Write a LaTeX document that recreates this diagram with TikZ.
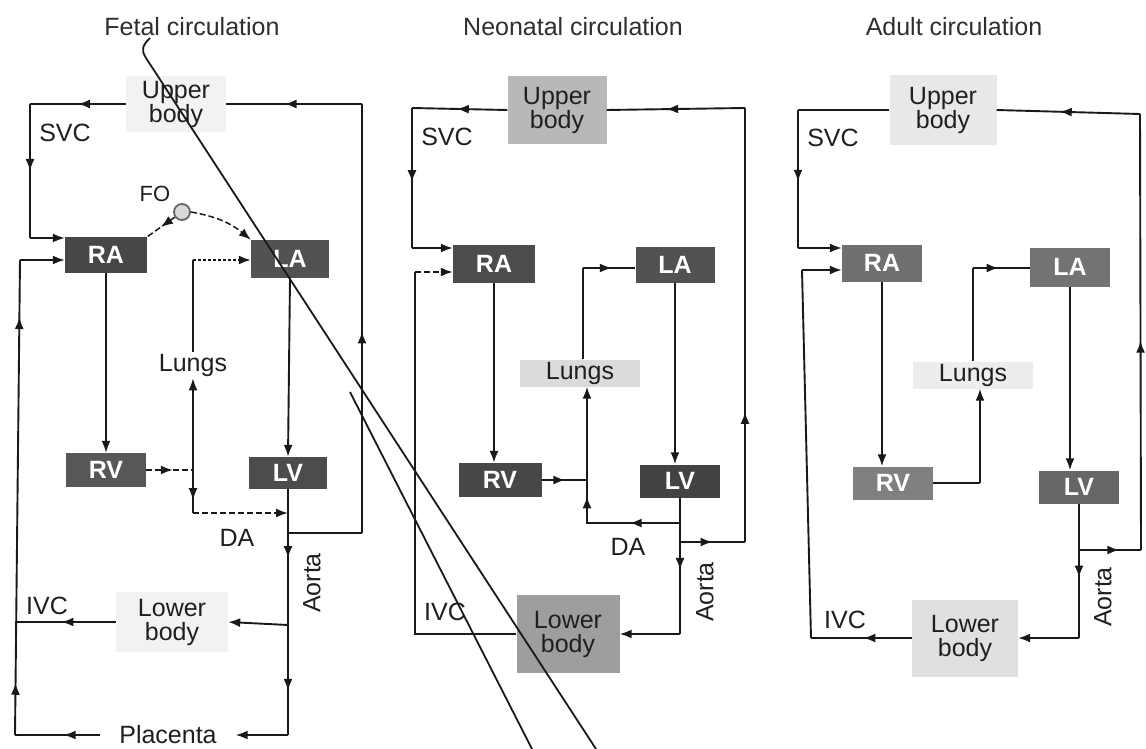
\documentclass[tikz,border=0pt]{standalone}
\usepackage{fontspec}
\setmainfont{Liberation Sans}
\usetikzlibrary{arrows.meta,decorations.markings}
\begin{document}
\begin{tikzpicture}[x=1pt,y=-1pt,
  every node/.style={font=\fontsize{25}{24}\selectfont, text=black!88},
  ln/.style={draw=black!90, line width=1.9pt},
  tip/.style={-{Latex[length=12pt,width=9pt]}},
  dsh/.style={dash pattern=on 6pt off 3pt},
  dots/.style={dash pattern=on 2.5pt off 2.5pt},
  marr/.style={postaction={decorate,decoration={markings,mark=at position #1 with {\arrow{Latex[length=12pt,width=9pt]}}}}},
  heart/.style={rectangle, fill=#1, text=white, font=\fontsize{25}{24}\selectfont\bfseries, minimum width=80pt, minimum height=35pt, inner sep=0pt},
  organ/.style={rectangle, fill=#1, align=center, inner sep=0pt},
  ttl/.style={text=black!82},
  crease/.style={draw=black!90, line width=1.8pt},
]
\useasboundingbox (0,0) rectangle (1146,749);

% ================= Fetal circulation =================
\node[ttl] (t1) at (192,27) {Fetal circulation};
\node[organ=black!5, minimum width=100pt, minimum height=56pt] (ub1) at (176,104) {Upper\\body};
\node[heart=black!72, minimum width=82pt, minimum height=36pt] (ra1) at (106,255) {RA};
\node[heart=black!68, minimum width=78pt, minimum height=38pt] (la1) at (290,259) {LA};
\node[heart=black!66, minimum width=80pt, minimum height=34pt] (rv1) at (106,470) {RV};
\node[heart=black!70, minimum width=78pt, minimum height=32pt] (lv1) at (288,473) {LV};
\node[inner sep=2pt] (lu1) at (193,365) {Lungs};
\node[organ=black!5, minimum width=112pt, minimum height=60pt] (lb1) at (172,622) {Lower\\body};
\node[minimum width=135pt, inner sep=0pt] (pl1) at (168,735) {Placenta};
\node[circle, draw=black!60, fill=black!15, line width=1.8pt, minimum size=16pt, inner sep=0pt] (fo1) at (182,212) {};
\node[font=\fontsize{22}{22}\selectfont] (fol) at (155,194) {FO};
\node (svc1) at (65,133) {SVC};
\node (ivc1) at (47,606) {IVC};
\node (da1) at (237,538) {DA};
\node[rotate=90] (ao1) at (312,583) {Aorta};

\coordinate (a1) at (30,104);
\coordinate (a2) at (30,238);
\coordinate (a3) at (20,260);
\coordinate (a4) at (15,735);
\coordinate (a5) at (17,622);
\coordinate (a6) at (288,533);
\coordinate (a7) at (288,625);
\coordinate (a8) at (288,735);
\coordinate (b1) at (362,533);
\coordinate (b2) at (362,104);
\coordinate (d1) at (193,260);
\coordinate (d2) at (193,513);
\coordinate (d3) at (193,470);
\coordinate (a9) at (288,513);

\draw[ln, marr=0.5] (ub1.west) -- (a1);
\draw[ln, marr=0.5] (a1) -- (a2);
\draw[ln, tip] (a2) -- (a2 -| ra1.west);
\draw[ln, tip] (a3) -- (a3 -| ra1.west);
\draw[ln, marr=0.11, marr=0.88] (a4) -- (a3);
\draw[ln, marr=0.55] (lb1.west) -- (a5);
\draw[ln, marr=0.28, marr=0.82] (lv1.south) -- (a8);
\draw[ln, tip] (a7) -- (lb1.east);
\draw[ln] (a6) -- (b1);
\draw[ln, marr=0.47] (b1) -- (b2);
\draw[ln, marr=0.57] (b2) -- (ub1.east);
\draw[ln, tip] (a8) -- (pl1.east);
\draw[ln, marr=0.43] (pl1.west) -- (a4);
\draw[ln, tip] (ra1.south) -- (rv1.north);
\draw[ln, tip] (la1.south) -- (lv1.north);
\draw[ln, line width=1.5pt] (lu1.north) -- (d1);
\draw[ln, dots, tip] (d1) -- (d1 -| la1.west);
\draw[ln, dsh, marr=0.57] (rv1.east) -- (d3);
\draw[ln, line width=1.5pt, tip] (d3) -- (lu1.south);
\draw[ln, line width=1.5pt, marr=0.7] (d3) -- (d2);
\draw[ln, dsh, tip] (d2) -- (a9);
\draw[ln, dsh, line width=1.5pt, marr=0.5] (fo1) -- (ra1.north east);
\draw[ln, dsh, line width=1.5pt, tip] (fo1.east) to[bend left=15] (la1.north west);

% ================= Neonatal circulation =================
\node[ttl] (t2) at (573,27) {Neonatal circulation};
\node[organ=black!28, minimum width=99pt, minimum height=68pt] (ub2) at (557,110) {Upper\\body};
\node[heart=black!70, minimum width=82pt, minimum height=38pt] (ra2) at (494,264) {RA};
\node[heart=black!68, minimum width=79pt, minimum height=36pt] (la2) at (675,265) {LA};
\node[heart=black!72, minimum width=83pt, minimum height=34pt] (rv2) at (500,480) {RV};
\node[heart=black!74, minimum width=80pt, minimum height=33pt] (lv2) at (680,481) {LV};
\node[organ=black!14, minimum width=120pt, minimum height=27pt] (lu2) at (580,373) {Lungs};
\node[organ=black!38, minimum width=103pt, minimum height=78pt] (lb2) at (568,634) {Lower\\body};
\node (svc2) at (447,137) {SVC};
\node (ivc2) at (445,612) {IVC};
\node (da2) at (628,547) {DA};
\node[rotate=90] (ao2) at (705,592) {Aorta};

\coordinate (n1) at (412,108);
\coordinate (n2) at (412,248);
\coordinate (n3) at (415,272);
\coordinate (n4) at (415,634);
\coordinate (n5) at (745,108);
\coordinate (n6) at (745,542);
\coordinate (n7) at (680,542);
\coordinate (n8) at (680,634);
\coordinate (n9) at (680,523);
\coordinate (n10) at (587,523);
\coordinate (n11) at (587,480);
\coordinate (n12) at (583,268);

\draw[ln, marr=0.53] (ub2.west) -- (n1);
\draw[ln, marr=0.53] (n1) -- (n2);
\draw[ln, tip] (n2) -- (n2 -| ra2.west);
\draw[ln, dsh, tip] (n3) -- (n3 -| ra2.west);
\draw[ln] (lb2.west) -- (n4) -- (n3);
\draw[ln, marr=0.5] (n7) -- (n6);
\draw[ln, marr=0.30] (n6) -- (n5);
\draw[ln, marr=0.57] (n5) -- (ub2.east);
\draw[ln, marr=0.53] (lv2.south) -- (n8);
\draw[ln, tip] (n8) -- (lb2.east);
\draw[ln, marr=0.37, marr=0.88] (n9) -- (n10) -- (n11);
\draw[ln, marr=0.52] (rv2.east) -- (n11);
\draw[ln, tip] (n11) -- (n11 |- lu2.south);
\draw[ln] (n12 |- lu2.north) -- (n12);
\draw[ln, marr=0.55] (n12) -- (n12 -| la2.west);
\draw[ln, tip] (ra2.south) -- (ra2.south |- rv2.north);
\draw[ln, tip] (la2.south) -- (la2.south |- lv2.north);

% ================= Adult circulation =================
\node[ttl] (t3) at (954,27) {Adult circulation};
\node[organ=black!9, minimum width=107pt, minimum height=70pt] (ub3) at (943,110) {Upper\\body};
\node[heart=black!56, minimum width=80pt, minimum height=37pt] (ra3) at (882,263) {RA};
\node[heart=black!55, minimum width=80pt, minimum height=39pt] (la3) at (1070,267) {LA};
\node[heart=black!50, minimum width=80pt, minimum height=33pt] (rv3) at (893,483) {RV};
\node[heart=black!60, minimum width=80pt, minimum height=33pt] (lv3) at (1079,487) {LV};
\node[organ=black!7, minimum width=120pt, minimum height=27pt] (lu3) at (973,375) {Lungs};
\node[organ=black!12, minimum width=106pt, minimum height=77pt] (lb3) at (965,638) {Lower\\body};
\node (svc3) at (833,138) {SVC};
\node (ivc3) at (845,620) {IVC};
\node[rotate=90] (ao3) at (1103,597) {Aorta};

\coordinate (m1) at (798,110);
\coordinate (m2) at (798,248);
\coordinate (m3) at (802,270);
\coordinate (m4) at (811,638);
\coordinate (m5) at (1140,114);
\coordinate (m6) at (1141,550);
\coordinate (m7) at (1079,550);
\coordinate (m8) at (1079,638);
\coordinate (m9) at (980,483);
\coordinate (m10) at (973,268);

\draw[ln] (ub3.west) -- (m1);
\draw[ln, marr=0.52] (m1) -- (m2);
\draw[ln, tip] (m2) -- (m2 -| ra3.west);
\draw[ln, tip] (m3) -- (m3 -| ra3.west);
\draw[ln, marr=0.48] (lb3.west) -- (m4);
\draw[ln] (m4) -- (m3);
\draw[ln, marr=0.65] (m7) -- (m6);
\draw[ln, marr=0.48] (m6) -- (m5);
\draw[ln, marr=0.56] (m5) -- (ub3.east);
\draw[ln, marr=0.55] (lv3.south) -- (m8);
\draw[ln, tip] (m8) -- (lb3.east);
\draw[ln] (rv3.east) -- (m9);
\draw[ln, tip] (m9) -- (m9 |- lu3.south);
\draw[ln] (m10 |- lu3.north) -- (m10);
\draw[ln, marr=0.45] (m10) -- (m10 -| la3.west);
\draw[ln, tip] (ra3.south) -- (ra3.south |- rv3.north);
\draw[ln, tip] (la3.south) -- (la3.south |- lv3.north);

% ================= crease lines across the page =================
\draw[crease] (150,38) .. controls (142,46) and (141,50) .. (146,58) -- (596,749);
\draw[crease] (350,392) -- (532,749);
\end{tikzpicture}
\end{document}
